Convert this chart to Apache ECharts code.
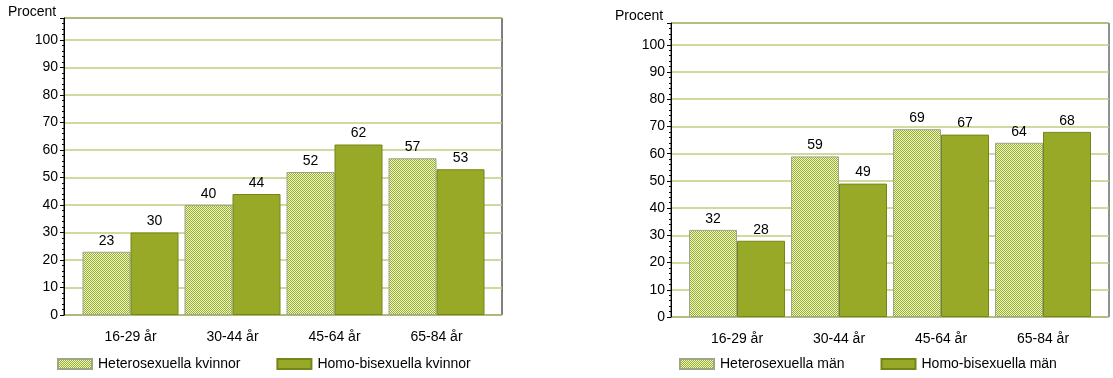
<!DOCTYPE html>
<html>
<head>
<meta charset="utf-8">
<script src="https://cdn.jsdelivr.net/npm/echarts@6/dist/echarts.min.js"></script>
<style>
  html, body { margin: 0; padding: 0; background: #fff; }
  #chart { width: 1113px; height: 378px; }
</style>
</head>
<body>
<div id="chart"></div>
<script>
// ---- data ----
const categories = ['16-29 år', '30-44 år', '45-64 år', '65-84 år'];
const heteroWomen = [23, 40, 52, 57];
const homoWomen = [30, 44, 62, 53];
const heteroMen = [32, 59, 69, 64];
const homoMen = [28, 49, 67, 68];
const yTicks = [0, 10, 20, 30, 40, 50, 60, 70, 80, 90, 100];
const yLabel = 'Procent';
const namesLeft = ['Heterosexuella kvinnor', 'Homo-bisexuella kvinnor'];
const namesRight = ['Heterosexuella män', 'Homo-bisexuella män'];

// ---- styles ----
const FONT = '"Liberation Sans", Arial, sans-serif';
const FS = 14;
const YMAX = 108;
const solidColor = '#97a926';
const solidBorder = '#74861a';
const patBorder = '#9ea688';
const gridColor = '#bfce7e';

function makePattern() {
  const c = document.createElement('canvas');
  c.width = 2; c.height = 2;
  const ctx = c.getContext('2d');
  ctx.fillStyle = '#eef3d2';
  ctx.fillRect(0, 0, 2, 2);
  ctx.fillStyle = '#98b026';
  ctx.fillRect(0, 0, 1, 1);
  ctx.fillRect(1, 1, 1, 1);
  return { image: c, repeat: 'repeat' };
}
const pattern = makePattern();

const chart = echarts.init(document.getElementById('chart'), null, { renderer: 'canvas' });

function frameY(gridIndex) {
  return {
    type: 'value', gridIndex, min: 0, max: YMAX, interval: 10,
    axisLine: { show: true, lineStyle: { color: '#000', width: 1 } },
    axisTick: { show: true, length: 4, inside: false, lineStyle: { color: '#000' } },
    minorTick: { show: true, splitNumber: 5, length: 2, lineStyle: { color: '#000' } },
    axisLabel: {
      margin: 6, color: '#000', fontFamily: FONT, fontSize: FS,
      formatter: v => (yTicks.indexOf(v) >= 0 ? String(v) : '')
    },
    splitLine: { show: true, lineStyle: { color: gridColor, width: 1.6 } },
    minorSplitLine: { show: false }
  };
}
function frameX(gridIndex) {
  return { type: 'value', gridIndex, min: 0, max: 1, show: false };
}
function barX(gridIndex) {
  return {
    type: 'category', gridIndex, data: categories,
    axisLine: { show: false }, axisTick: { show: false },
    axisLabel: { margin: 15, color: '#000', fontFamily: FONT, fontSize: FS }
  };
}
function barY(gridIndex) {
  return { type: 'value', gridIndex, min: 0, max: YMAX, show: false, splitLine: { show: false } };
}
const labelCfg = { show: true, position: 'top', distance: 4, color: '#000', fontFamily: FONT, fontSize: FS };

function barSeries(name, data, idx, isPattern) {
  return {
    name, type: 'bar', xAxisIndex: idx, yAxisIndex: idx, data,
    barWidth: 48, barGap: '0%',
    itemStyle: isPattern
      ? { color: pattern, borderColor: patBorder, borderWidth: 1 }
      : { color: solidColor, borderColor: solidBorder, borderWidth: 1 },
    label: labelCfg,
    emphasis: { disabled: true },
    z: 3
  };
}

const titleStyle = { fontFamily: FONT, fontSize: FS, fontWeight: 'normal', color: '#000' };
const legendText = { fontFamily: FONT, fontSize: FS, color: '#000', padding: [0, 0, 0, 1] };

const option = {
  animation: false,
  backgroundColor: '#fff',
  textStyle: { fontFamily: FONT },
  title: [
    { text: yLabel, left: 8, top: 5, padding: 0, textStyle: titleStyle },
    { text: yLabel, left: 615, top: 9, padding: 0, textStyle: titleStyle }
  ],
  grid: [
    { left: 64, top: 18, width: 438, height: 297, show: true, borderColor: '#000', borderWidth: 1, containLabel: false },
    { left: 79.5, top: 18, width: 408, height: 297, containLabel: false },
    { left: 671, top: 23, width: 438, height: 294, show: true, borderColor: '#222', borderWidth: 1, containLabel: false },
    { left: 686, top: 23, width: 408, height: 294, containLabel: false }
  ],
  xAxis: [frameX(0), barX(1), frameX(2), barX(3)],
  yAxis: [frameY(0), barY(1), frameY(2), barY(3)],
  legend: [
    {
      data: namesLeft, left: 57, top: 357, padding: 0, itemWidth: 34, itemHeight: 10, itemGap: 36,
      icon: 'rect', selectedMode: false, textStyle: legendText
    },
    {
      data: namesRight, left: 679, top: 357, padding: 0, itemWidth: 34, itemHeight: 10, itemGap: 36,
      icon: 'rect', selectedMode: false, textStyle: legendText
    }
  ],
  series: [
    barSeries(namesLeft[0], heteroWomen, 1, true),
    barSeries(namesLeft[1], homoWomen, 1, false),
    barSeries(namesRight[0], heteroMen, 3, true),
    barSeries(namesRight[1], homoMen, 3, false)
  ]
};
chart.setOption(option);
</script>
</body>
</html>
